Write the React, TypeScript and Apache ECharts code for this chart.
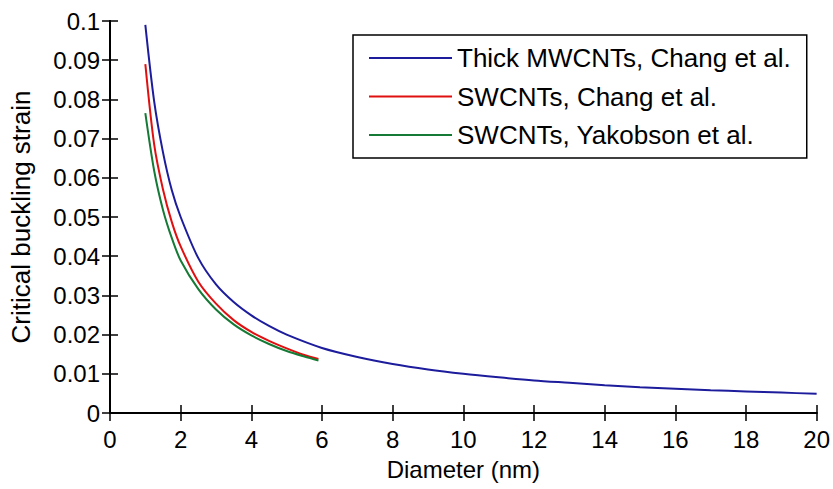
import React, { useEffect, useRef } from "react";
import * as echarts from "echarts";

// Diameter (nm) sample points for each curve
const diameterMW = [1, 1.25, 1.5, 1.75, 2, 2.5, 3, 3.5, 4, 4.5, 5, 6, 7, 8, 9, 10, 11, 12, 13, 14, 15, 16, 17, 18, 19, 20];
const diameterSW = [1, 1.25, 1.5, 1.75, 2, 2.5, 3, 3.5, 4, 4.5, 5, 5.5, 5.9];

// Critical buckling strain values
const strainMWChang = [0.099, 0.0795, 0.0665, 0.0568, 0.05, 0.0395, 0.0328, 0.0283, 0.0249, 0.0222, 0.02, 0.0166, 0.0143, 0.0125, 0.0111, 0.01, 0.0091, 0.0083, 0.0077, 0.0071, 0.0066, 0.0062, 0.0058, 0.0055, 0.0052, 0.0049];
const strainSWChang = [0.089, 0.0685, 0.057, 0.0487, 0.0425, 0.0335, 0.0279, 0.0237, 0.0207, 0.0184, 0.0165, 0.0148, 0.0138];
const strainSWYakobson = [0.0765, 0.0618, 0.0518, 0.0446, 0.0389, 0.0316, 0.0264, 0.0226, 0.0198, 0.0176, 0.0158, 0.0144, 0.0134];

const seriesNames = [
  "Thick MWCNTs, Chang et al.",
  "SWCNTs, Chang et al.",
  "SWCNTs, Yakobson et al.",
];
const seriesColors = ["#1c1c9c", "#e01010", "#157a35"];

const FONT = "'Liberation Sans', Arial, Helvetica, sans-serif";

const pairs = (xs: number[], ys: number[]) => xs.map((x, i) => [x, ys[i]]);

export default function App() {
  const ref = useRef<HTMLDivElement>(null);

  useEffect(() => {
    document.body.style.margin = "0";
    if (!ref.current) return;
    const chart = echarts.init(ref.current, undefined, { renderer: "svg" });

    const axisLine = { show: true, lineStyle: { color: "#000", width: 2 } };
    const axisTick = { show: true, inside: true, length: 8, lineStyle: { color: "#000", width: 1.5 } };

    const xCommon = { type: "value", min: 0, max: 20, interval: 2, splitLine: { show: false }, axisLine, axisTick };
    const yCommon = { type: "value", min: 0, max: 0.1, interval: 0.01, splitLine: { show: false }, axisLine, axisTick };

    const data = [
      pairs(diameterMW, strainMWChang),
      pairs(diameterSW, strainSWChang),
      pairs(diameterSW, strainSWYakobson),
    ];

    chart.setOption({
      animation: false,
      backgroundColor: "#ffffff",
      grid: { left: 110, right: 14, top: 21, bottom: 76, containLabel: false },
      xAxis: [
        {
          ...xCommon,
          position: "bottom",
          name: "Diameter (nm)",
          nameLocation: "middle",
          nameGap: 44,
          nameTextStyle: { fontFamily: FONT, fontSize: 24, color: "#000", lineHeight: 24 },
          axisLabel: { fontFamily: FONT, fontSize: 24, color: "#000", margin: 14, lineHeight: 24 },
        },
        { ...xCommon, position: "top", axisLabel: { show: false } },
      ],
      yAxis: [
        {
          ...yCommon,
          position: "left",
          name: "Critical buckling strain",
          nameLocation: "middle",
          nameGap: 76,
          nameTextStyle: { fontFamily: FONT, fontSize: 26, color: "#000", lineHeight: 26 },
          axisLabel: {
            fontFamily: FONT,
            fontSize: 24,
            color: "#000",
            margin: 10,
            formatter: (v: number) => String(+v.toFixed(2)),
          },
        },
        { ...yCommon, position: "right", axisLabel: { show: false } },
      ],
      legend: {
        left: 353,
        top: 35,
        orient: "vertical",
        icon: "rect",
        itemWidth: 83,
        itemHeight: 2,
        itemGap: 12.5,
        padding: [10, 16, 10, 16],
        borderColor: "#000",
        borderWidth: 1.5,
        backgroundColor: "#fff",
        textStyle: { fontFamily: FONT, fontSize: 26, color: "#000", lineHeight: 26 },
        data: seriesNames,
      },
      series: seriesNames.map((name, i) => ({
        name,
        type: "line",
        data: data[i],
        showSymbol: false,
        symbol: "none",
        smooth: 0.3,
        color: seriesColors[i],
        lineStyle: { color: seriesColors[i], width: 2 },
        xAxisIndex: 0,
        yAxisIndex: 0,
      })),
    });

    return () => chart.dispose();
  }, []);

  return <div ref={ref} style={{ width: 833, height: 489 }} />;
}
